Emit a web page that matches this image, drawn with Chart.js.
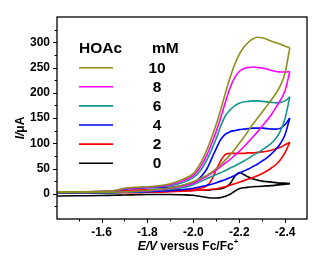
<!DOCTYPE html>
<html>
<head>
<meta charset="utf-8">
<script src="https://cdn.jsdelivr.net/npm/chart.js@4.4.1/dist/chart.umd.min.js"></script>
<style>
  html, body { margin: 0; padding: 0; background: #fff; }
  #wrap { position: relative; width: 333px; height: 263px; }
</style>
</head>
<body>
<div id="wrap"><canvas id="cv"></canvas></div>
<script>
// potential grid (V vs Fc/Fc+), shared by the cathodic (fwd) and return (rev) branches
const potential = [-1.4, -1.5, -1.6, -1.65, -1.7, -1.75, -1.8, -1.85, -1.9, -1.95,
    -2.0, -2.02, -2.04, -2.06, -2.08, -2.1, -2.12, -2.14, -2.16, -2.18, -2.2,
    -2.22, -2.24, -2.26, -2.28, -2.3, -2.32, -2.34, -2.36, -2.38, -2.4, -2.42];

// current in uA, one value per potential
const fwd10 = [4, 4, 5, 6, 11, 13, 14, 16, 20, 28, 40, 52, 68, 88, 112, 138, 168, 200, 230, 256, 276, 290, 300, 307, 310, 309, 306, 302, 299, 296, 292, 289];
const rev10 = [3, 3, 3, 3, 4, 5, 7, 9, 12, 17, 24, 28, 32, 37, 43, 50, 58, 67, 77, 88, 100, 112, 125, 138, 150, 162, 174, 186, 199, 215, 240, 289];
const fwd8 = [4, 4, 5, 6, 10, 12, 13, 15, 18, 25, 36, 46, 60, 78, 100, 124, 152, 182, 210, 230, 242, 248, 250, 251, 250, 249, 247, 244, 242, 241, 241, 242];
const rev8 = [3, 3, 3, 3, 4, 5, 6, 8, 11, 15, 21, 25, 30, 35, 41, 47, 54, 61, 68, 76, 84, 93, 103, 113, 123, 134, 145, 157, 171, 186, 205, 242];
const fwd6 = [4, 4, 4, 5, 10, 12, 13, 14, 16, 22, 32, 40, 52, 68, 88, 110, 135, 155, 166, 174, 179, 182, 183, 184, 184, 183, 182, 181, 180, 181, 184, 192];
const rev6 = [2, 2, 2, 2, 3, 4, 5, 7, 9, 12, 18, 22, 26, 30, 34, 38, 42, 46, 51, 55, 60, 65, 70, 76, 81, 87, 93, 100, 110, 125, 150, 192];
const fwd4 = [3, 3, 4, 5, 9, 11, 12, 12, 13, 16, 22, 28, 37, 50, 70, 90, 108, 118, 123, 125, 127, 128, 129, 130, 130, 130, 129, 128, 128, 130, 137, 150];
const rev4 = [2, 2, 2, 2, 3, 3, 4, 5, 6, 8, 11, 13, 15, 17, 19, 22, 25, 28, 32, 36, 41, 45, 49, 54, 59, 65, 71, 79, 88, 100, 118, 150];
const fwd2 = [3, 3, 3, 4, 6, 7, 8, 8, 8, 8, 9, 10, 12, 16, 28, 48, 66, 78, 80, 80, 80, 80, 81, 81, 82, 83, 84, 86, 89, 92, 97, 102];
const rev2 = [1, 1, 2, 2, 2, 2, 3, 3, 4, 5, 6, 7, 7, 8, 9, 10, 12, 14, 17, 20, 23, 26, 29, 32, 36, 40, 45, 51, 58, 68, 82, 102];
const fwd0 = [1, 1, 1, 2, 5, 7, 7, 7, 7, 7, 7, 7, 7, 7, 8, 9, 10, 13, 20, 34, 42, 38, 33, 29, 27, 25, 24, 23, 22, 21, 21, 20];
const rev0 = [-4.5, -4, -3.5, -3, -2.5, -2, -1.5, -1.5, -1.5, -2, -3, -4.5, -6, -7.5, -8.5, -8.5, -7.5, -5, -1, 5, 10, 12, 13, 14, 14.5, 15, 15.5, 16, 17, 18, 19, 20];

const concLabels = ['10', '8', '6', '4', '2', '0'];
const concColors = ['#8e8e1e', '#ff00ff', '#16968c', '#0000ff', '#ff0000', '#000000'];
const fwdSeries = [fwd10, fwd8, fwd6, fwd4, fwd2, fwd0];
const revSeries = [rev10, rev8, rev6, rev4, rev2, rev0];

const xTickValues = [-1.5, -1.6, -1.7, -1.8, -1.9, -2.0, -2.1, -2.2, -2.3, -2.4];
const xTickLabels = ['', '-1.6', '', '-1.8', '', '-2.0', '', '-2.2', '', '-2.4'];
const yTickValues = [-25, 0, 25, 50, 75, 100, 125, 150, 175, 200, 225, 250, 275, 300, 325];
const yTickLabels = ['', '0', '', '50', '', '100', '', '150', '', '200', '', '250', '', '300', ''];

const FONT = '"Liberation Sans", Arial, sans-serif';

const datasets = [];
concLabels.forEach((c, i) => {
    [fwdSeries[i], revSeries[i]].forEach(arr => {
        datasets.push({
            label: c + ' mM',
            data: potential.map((e, k) => ({ x: e, y: arr[k] })),
            borderColor: concColors[i],
            borderWidth: 1.6,
            pointRadius: 0,
            cubicInterpolationMode: 'monotone',
            fill: false
        });
    });
});

// draws text made of pieces with their own style (italic / superscript)
function drawParts(ctx, parts, cx, cy) {
    const fontFor = p => `${p.italic ? 'italic ' : ''}bold ${p.sup ? 8 : 12}px ${FONT}`;
    let total = 0;
    parts.forEach(p => { ctx.font = fontFor(p); total += ctx.measureText(p.t).width; });
    let x = cx - total / 2;
    ctx.textAlign = 'left';
    ctx.textBaseline = 'middle';
    parts.forEach(p => {
        ctx.font = fontFor(p);
        ctx.fillText(p.t, x, p.sup ? cy - 5 : cy);
        x += ctx.measureText(p.t).width;
    });
}

const framePlugin = {
    id: 'frame',
    afterDraw(chart) {
        const { ctx, chartArea: a, scales: { x, y } } = chart;
        ctx.save();
        ctx.strokeStyle = '#000';
        ctx.fillStyle = '#000';

        // ticks, outside the box
        ctx.lineWidth = 1;
        ctx.beginPath();
        x.ticks.forEach((t, i) => {
            const px = Math.round(x.getPixelForValue(t.value)) + 0.5;
            const len = xTickLabels[i] ? 4 : 2.5;
            ctx.moveTo(px, a.bottom);
            ctx.lineTo(px, a.bottom + len);
        });
        y.ticks.forEach((t, i) => {
            const py = Math.round(y.getPixelForValue(t.value)) + 0.5;
            const len = yTickLabels[i] ? 4 : 2.5;
            ctx.moveTo(a.left, py);
            ctx.lineTo(a.left - len, py);
        });
        ctx.stroke();

        ctx.lineWidth = 1.3;
        ctx.strokeRect(a.left, a.top, a.right - a.left, a.bottom - a.top);

        // legend inside the plot
        ctx.font = `bold 15.5px ${FONT}`;
        ctx.textBaseline = 'middle';
        ctx.textAlign = 'left';
        ctx.fillText('HOAc', 79, 49);
        ctx.fillText('mM', 152, 49);
        ctx.textAlign = 'center';
        concLabels.forEach((c, i) => {
            const ly = 67.7 + 19.1 * i;
            ctx.strokeStyle = concColors[i];
            ctx.lineWidth = 1.6;
            ctx.beginPath();
            ctx.moveTo(79, ly);
            ctx.lineTo(113, ly);
            ctx.stroke();
            ctx.fillStyle = '#000';
            ctx.fillText(c, 157, ly + 1);
        });

        // axis titles
        ctx.fillStyle = '#000';
        drawParts(ctx, [{ t: 'E/V', italic: true }, { t: ' versus Fc/Fc' }, { t: '+', sup: true }], 188, 247);
        ctx.translate(21, 128);
        ctx.rotate(-Math.PI / 2);
        drawParts(ctx, [{ t: 'I/', italic: true }, { t: 'μA' }], 0, 0);
        ctx.restore();
    }
};

new Chart(document.getElementById('cv'), {
    type: 'line',
    data: { datasets },
    plugins: [framePlugin],
    options: {
        responsive: true,
        maintainAspectRatio: false,
        animation: false,
        layout: { padding: { top: 17, right: 26, left: 0, bottom: 0 } },
        scales: {
            x: {
                type: 'linear',
                reverse: true,
                min: -2.495,
                max: -1.406,
                afterBuildTicks: scale => { scale.ticks = xTickValues.map(v => ({ value: v })); },
                afterFit: scale => { scale.height = 44; },
                grid: { display: false, drawTicks: false },
                border: { display: false },
                ticks: {
                    autoSkip: false,
                    maxRotation: 0,
                    padding: 6,
                    color: '#000',
                    font: { family: FONT, size: 12, weight: 'bold' },
                    callback: (v, i) => xTickLabels[i]
                }
            },
            y: {
                type: 'linear',
                min: -50,
                max: 350,
                afterBuildTicks: scale => { scale.ticks = yTickValues.map(v => ({ value: v })); },
                afterFit: scale => { scale.width = 57; },
                grid: { display: false, drawTicks: false },
                border: { display: false },
                ticks: {
                    autoSkip: false,
                    padding: 7,
                    color: '#000',
                    font: { family: FONT, size: 12, weight: 'bold' },
                    callback: (v, i) => yTickLabels[i]
                }
            }
        },
        plugins: {
            legend: { display: false },
            tooltip: { enabled: false }
        }
    }
});
</script>
</body>
</html>
